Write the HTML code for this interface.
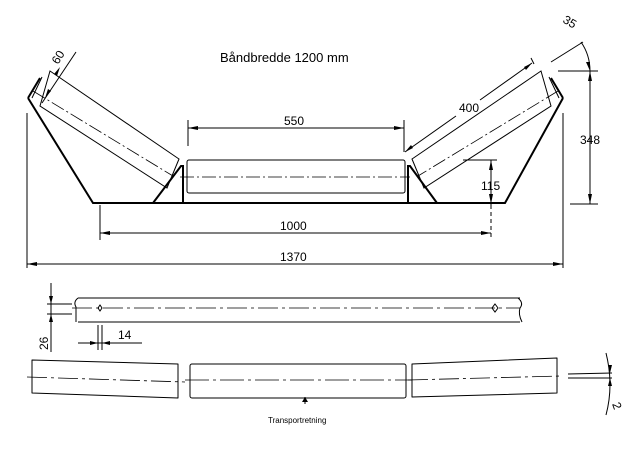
<!DOCTYPE html>
<html><head><meta charset="utf-8"><style>
html,body{margin:0;padding:0;background:#fff}
svg{display:block}
text{font-family:"Liberation Sans",sans-serif;fill:#000}
</style></head><body>
<svg width="644" height="452" viewBox="0 0 644 452" xmlns="http://www.w3.org/2000/svg">
<g fill="none" stroke="#000" stroke-width="1">
<!-- frame -->
<path d="M28,98 L93,203 L505,203 L563,98" stroke-width="2"/>
<path d="M28,98 L40,78 M563,98 L551,78" stroke-width="2"/>
<path d="M153,203 L181,166 L183,166 L183,203" stroke-width="2"/>
<path d="M437,203 L410,166 L408,166 L408,203" stroke-width="2"/>
<!-- center roll -->
<rect x="187" y="160" width="218" height="33" rx="2"/>
<path d="M180,177 L410,177" stroke-dasharray="14,3,2,3" stroke-width="0.8"/>
<!-- left roll -->
<polygon points="50,71 179,159 167,188 40,106"/>
<path d="M33,91 L173,176" stroke-dasharray="14,3,2,3" stroke-width="0.8"/>
<path d="M42,77 L32,98"/>
<!-- right roll -->
<polygon points="541,71 412,159 424,188 551,106"/>
<path d="M558,91 L418,176" stroke-dasharray="14,3,2,3" stroke-width="0.8"/>
<path d="M549,77 L559,98"/>
<!-- 60 dim -->
<path d="M76,52 L42,103"/>
<!-- 550 -->
<path d="M188,120 L188,146 M404,120 L404,152 M188,128 L404,128"/>
<!-- 1000 -->
<path d="M100,205 L100,240 M100,233 L491,233"/>
<path d="M491,205 L491,240" stroke-dasharray="4,3"/>
<!-- 1370 -->
<path d="M27,113 L27,268 M563,113 L563,268 M27,264 L563,264"/>
<!-- 400 -->
<path d="M405,152 L456,116 M480,100 L532,63 M531,58 L534,64"/>
<!-- 348 -->
<path d="M558,71 L598,71 M570,204 L598,204 M590,71 L590,204"/>
<!-- 115 -->
<path d="M463,160 L497,160 M491,160 L491,206"/>
<!-- 35 -->
<path d="M551,62 L583,42"/>
<path d="M581,42 Q590,55 590,71"/>
<!-- rod -->
<path d="M78,298 L520,298 M78,322 L520,322"/>
<path d="M78,298 Q73,302 76,307 L76,322"/>
<path d="M518,298 Q524,303 520,308 Q518,314 522,322"/>
<path d="M72,308 L520,308" stroke-dasharray="20,4,3,4" stroke-width="0.8"/>
<path d="M100,305 L102,308 L100,311 L98,308Z M495,304 L498,308 L495,312 L492,308Z"/>
<!-- 26 -->
<path d="M51,283 L51,352 M47,304 L72,304 M47,314 L72,314"/>
<!-- 14 -->
<path d="M98,325 L98,350 M102,325 L102,350 M78,343 L142,343"/>
<!-- bottom rolls -->
<path d="M32,360 L178,364 L178,398 L32,393 Z" stroke-linejoin="round"/>
<path d="M27,377 L185,382" stroke-dasharray="20,4,3,4" stroke-width="0.8"/>
<rect x="190" y="364" width="216" height="34" rx="2"/>
<path d="M185,380 L412,380" stroke-dasharray="24,4,3,4" stroke-width="0.8"/>
<path d="M412,364 L557,358 L557,393 L412,397 Z" stroke-linejoin="round"/>
<path d="M408,380 L562,376" stroke-dasharray="20,4,3,4" stroke-width="0.8"/>
<path d="M568,374 L612,373 M568,378 L612,378"/>
<path d="M606,353 Q614,385 606,415"/>
<path d="M305,397 L305,404"/>
</g>
<g fill="#000">
<!-- arrowheads -->
<path d="M188,128 L198,126 L198,130Z M404,128 L394,126 L394,130Z"/>
<path d="M100,233 L110,231 L110,235Z M491,233 L481,231 L481,235Z"/>
<path d="M27,264 L37,262 L37,266Z M563,264 L553,262 L553,266Z"/>
<path d="M590,71 L588,81 L592,81Z M590,204 L588,194 L592,194Z"/>
<path d="M491,160 L489,170 L493,170Z M491,204 L489,194 L493,194Z"/>
<path d="M405,152 L411,145 L413,148Z M532,63 L526,70 L524,67Z"/>
<path d="M590,71 L586,62 L590,62Z"/>
<path d="M51,304 L49,296 L53,296Z M51,314 L49,322 L53,322Z"/>
<path d="M98,343 L90,341 L90,345Z M102,343 L110,341 L110,345Z"/>
<path d="M60,67 L57,76 L54,74Z M45,98 L48,89 L51,91Z"/>
<path d="M610,373 L608,365 L612,365Z M610,378 L608,386 L612,386Z"/>
<path d="M305,397 L302,402 L308,402Z"/>
</g>
<text x="220" y="62" font-size="13">Båndbredde 1200 mm</text>
<text x="284" y="125" font-size="12">550</text>
<text x="280" y="230" font-size="12">1000</text>
<text x="280" y="261" font-size="12">1370</text>
<text x="459" y="112" font-size="12">400</text>
<text x="580" y="144" font-size="12">348</text>
<text x="481" y="190" font-size="12">115</text>
<text x="118" y="339" font-size="12">14</text>
<text x="0" y="0" font-size="12" transform="translate(48,350) rotate(-90)">26</text>
<text x="0" y="0" font-size="12" transform="translate(58,65) rotate(-58)">60</text>
<text x="0" y="0" font-size="12" transform="translate(562,22) rotate(30)">35</text>
<text x="0" y="0" font-size="12" transform="translate(612,404) rotate(70)">2</text>
<text x="268" y="423" font-size="8">Transportretning</text>
</svg>
</body></html>
